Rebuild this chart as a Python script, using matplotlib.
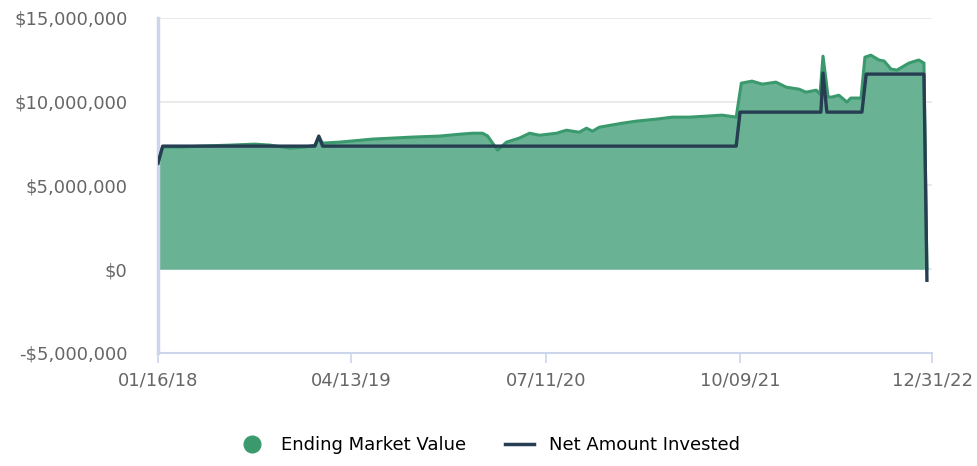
import pandas as pd
import matplotlib
matplotlib.use("Agg")
import matplotlib.pyplot as plt
from matplotlib.lines import Line2D
from matplotlib.ticker import FuncFormatter

# Ending Market Value (USD millions)
emv_dates = [
    "2018-01-16", "2018-01-27", "2018-03-08", "2018-04-24", "2018-07-03",
    "2018-08-30", "2018-10-05", "2018-11-20", "2018-12-25", "2019-01-18",
    "2019-01-27", "2019-02-05", "2019-03-17", "2019-06-02", "2019-07-19",
    "2019-09-03", "2019-11-05", "2019-12-22", "2020-01-22", "2020-02-14",
    "2020-02-26", "2020-03-20", "2020-04-10", "2020-05-10", "2020-06-03",
    "2020-06-26", "2020-08-05", "2020-08-28", "2020-09-27", "2020-10-14",
    "2020-10-28", "2020-11-13", "2021-01-06", "2021-02-07", "2021-03-26",
    "2021-05-03", "2021-06-11", "2021-07-21", "2021-08-27", "2021-09-29",
    "2021-10-11", "2021-11-05", "2021-11-29", "2021-12-31", "2022-01-24",
    "2022-02-23", "2022-03-11", "2022-04-04", "2022-04-13", "2022-04-20",
    "2022-05-02", "2022-05-11", "2022-05-27", "2022-06-15", "2022-06-24",
    "2022-07-18", "2022-07-27", "2022-08-10", "2022-08-29", "2022-09-10",
    "2022-09-26", "2022-10-10", "2022-10-22", "2022-11-07", "2022-11-30",
    "2022-12-12", "2022-12-19",
]
emv_values = [
    6.33, 7.30, 7.29, 7.35, 7.41,
    7.47, 7.41, 7.23, 7.29, 7.41,
    7.90, 7.53, 7.59, 7.77, 7.83,
    7.89, 7.95, 8.06, 8.12, 8.12,
    7.95, 7.11, 7.59, 7.83, 8.12,
    8.00, 8.12, 8.30, 8.18, 8.42,
    8.24, 8.48, 8.72, 8.84, 8.96,
    9.08, 9.08, 9.14, 9.20, 9.08,
    11.11, 11.23, 11.05, 11.17, 10.87,
    10.75, 10.57, 10.69, 10.45, 12.72,
    10.28, 10.28, 10.39, 9.98, 10.22,
    10.22, 12.66, 12.78, 12.49, 12.43,
    11.95, 11.89, 12.07, 12.31, 12.49,
    12.31, 0.0,
]

# Net Amount Invested (USD millions)
nai_dates = [
    "2018-01-16", "2018-01-27", "2019-01-18", "2019-01-27", "2019-02-05",
    "2021-09-29", "2021-10-08", "2022-04-15", "2022-04-20", "2022-04-29",
    "2022-07-20", "2022-07-30", "2022-12-12", "2022-12-19",
]
nai_values = [
    6.33, 7.35, 7.35, 7.95, 7.35,
    7.35, 9.38, 9.38, 11.71, 9.38,
    9.38, 11.65, 11.65, -0.66,
]

tick_dates = ["2018-01-16", "2019-04-13", "2020-07-11", "2021-10-09", "2022-12-31"]
y_ticks = [-5e6, 0, 5e6, 10e6, 15e6]

green_fill = "#69b394"
green_line = "#3a9a6d"
dark_line = "#263d52"
axis_col = "#ccd6eb"

emv_x = pd.to_datetime(emv_dates)
emv_y = [v * 1e6 for v in emv_values]
nai_x = pd.to_datetime(nai_dates)
nai_y = [v * 1e6 for v in nai_values]
ticks_x = pd.to_datetime(tick_dates)

plt.rcParams["font.family"] = "DejaVu Sans"

fig = plt.figure(figsize=(9.77, 4.66), dpi=100)
ax = fig.add_axes([0.1617, 0.2425, 0.954 - 0.1617, 0.9614 - 0.2425])

ax.fill_between(emv_x, 0, emv_y, color=green_fill, linewidth=0, zorder=2)
ax.plot(emv_x, emv_y, color=green_line, linewidth=2.2, zorder=3)
ax.plot(nai_x, nai_y, color=dark_line, linewidth=2.4, zorder=4)

ax.set_xlim(ticks_x[0], ticks_x[-1])
ax.set_ylim(-5e6, 15e6)

ax.set_yticks(y_ticks)
ax.yaxis.set_major_formatter(FuncFormatter(
    lambda v, p: ("-$" if v < 0 else "$") + f"{abs(v):,.0f}"))
ax.set_xticks(ticks_x)
ax.set_xticklabels([d.strftime("%m/%d/%y") for d in ticks_x])

ax.grid(axis="y", color="#e6e6e6", linewidth=1.2, zorder=1)
ax.set_axisbelow(True)

for s in ["top", "right"]:
    ax.spines[s].set_visible(False)
ax.spines["left"].set_color(axis_col)
ax.spines["left"].set_linewidth(2.5)
ax.spines["bottom"].set_color(axis_col)
ax.spines["bottom"].set_linewidth(1.5)
ax.spines["bottom"].set_zorder(1)

ax.tick_params(axis="y", length=0, pad=22, labelsize=13, labelcolor="#666666")
ax.tick_params(axis="x", length=7, width=1.2, color=axis_col, pad=6,
               labelsize=13, labelcolor="#666666")

handles = [
    Line2D([], [], marker="o", color=green_line, linestyle="none", markersize=12),
    Line2D([], [], color=dark_line, linewidth=2.5),
]
fig.legend(handles, ["Ending Market Value", "Net Amount Invested"],
           loc="center", bbox_to_anchor=(0.5, 0.045), ncol=2, frameon=False,
           fontsize=13, handlelength=1.6, columnspacing=2.2, handletextpad=0.8)

fig.savefig("out.png", dpi=100)
